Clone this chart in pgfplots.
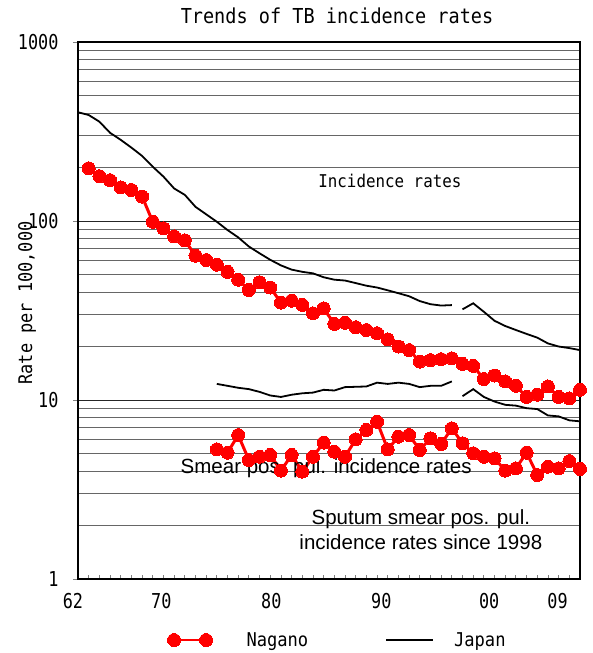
\documentclass[border=0pt]{standalone}
\usepackage{fontspec}
\setmainfont{Liberation Sans}
\newfontfamily\goth[FakeStretch=0.9]{DejaVu Sans Mono}
\newfontfamily\gothn[FakeStretch=0.82]{DejaVu Sans Mono}
\usepackage{pgfplots}
\pgfplotsset{compat=1.18}
\definecolor{ngred}{RGB}{255,0,0}
\pgfplotsset{
  nagano legend/.style={legend image code/.code={%
    \draw[##1, line width=1.5pt] plot coordinates {(0pt,0pt) (32pt,0pt)};
    \path (51pt,0pt);}},
  japan legend/.style={legend image code/.code={%
    \draw[##1] (0pt,0pt) -- (47pt,0pt);}},
}

\begin{document}
\begin{tikzpicture}
\useasboundingbox (-78pt,-74pt) rectangle (514pt,579pt);
\begin{axis}[
  at={(0pt,0pt)}, anchor=south west,
  scale only axis, width=502pt, height=537pt,
  clip=false,
  ymode=log, ymin=1, ymax=1000,
  xmin=1962, xmax=2009,
  ytick={1,10,100,1000}, yticklabels={1,10,100,1000},
  minor ytick={2,3,4,5,6,7,8,9,20,30,40,50,60,70,80,90,200,300,400,500,600,700,800,900},
  xtick={1962,1969.8,1980.1,1990.4,2000.5,2006.9},
  xticklabels={\hspace*{-10pt}62,70,80,90,00,09},
  minor xtick={1963,...,2008},
  xtick pos=bottom, ytick pos=left,
  major tick length=5pt, minor tick length=4pt,
  major x tick style={draw=none},
  minor y tick style={draw=none},
  major y tick style={xshift=-5pt, line width=0.8pt},
  minor x tick style={line width=0.8pt},
  ymajorgrids=true, yminorgrids=true,
  major grid style={black!85, line width=0.9pt},
  minor grid style={black!60, line width=0.9pt},
  axis line style={black, line width=1.2pt},
  ticklabel style={font=\gothn\fontsize{20.5}{22}\selectfont},
  yticklabel style={xshift=-16pt},
  xticklabel style={yshift=-11pt},
  title={Trends of TB incidence rates},
  title style={at={(axis description cs:0.516,1)}, anchor=center, yshift=20pt,
    font=\goth\fontsize{20.6}{24}\selectfont},
  ylabel={Rate per 100,000},
  ylabel style={at={(axis description cs:-0.1016,0.514)}, anchor=center,
    font=\goth\fontsize{18.8}{22}\selectfont},
  legend columns=2,
  legend style={at={(axis description cs:0.517,-0.1136)}, anchor=center,
    draw=none, fill=none, font=\goth\fontsize{19}{22}\selectfont,
    /tikz/every odd column/.append style={column sep=18pt},
    /tikz/every even column/.append style={column sep=75pt}},
]

% Nagano, incidence rates
\addplot[ngred, line width=3pt, mark=*, mark size=6.5pt,
  mark options={solid, fill=ngred, draw=ngred, line width=0pt}, nagano legend]
  coordinates {
  (1963,197) (1964,178) (1965,169) (1966,154) (1967,149) (1968,137)
  (1969,99) (1970,91) (1971,82) (1972,78) (1973,64) (1974,60.5)
  (1975,57) (1976,52) (1977,47) (1978,41.2) (1979,45.5) (1980,42.5)
  (1981,35) (1982,35.9) (1983,34) (1984,30.5) (1985,32.5) (1986,26.6)
  (1987,27) (1988,25.5) (1989,24.6) (1990,23.6) (1991,21.8) (1992,19.9)
  (1993,19.0) (1994,16.4) (1995,16.7) (1996,16.9) (1997,17.1) (1998,15.9)
  (1999,15.5) (2000,13.1) (2001,13.7) (2002,12.7) (2003,12.0) (2004,10.4)
  (2005,10.7) (2006,11.9) (2007,10.4) (2008,10.2) (2009,11.4)
};
\addlegendentry{Nagano}

% Japan, incidence rates (old definition)
\addplot[black, line width=1.8pt, japan legend] coordinates {
  (1962,405) (1963,391) (1964,359) (1965,311) (1966,284) (1967,257)
  (1968,231) (1969,201) (1970,177) (1971,152) (1972,140) (1973,120)
  (1974,109) (1975,99) (1976,89) (1977,81) (1978,72) (1979,66)
  (1980,60.7) (1981,56.5) (1982,53.5) (1983,52) (1984,51) (1985,48.5)
  (1986,47) (1987,46.5) (1988,45) (1989,43.5) (1990,42.5) (1991,41)
  (1992,39.5) (1993,38) (1994,35.7) (1995,34.3) (1996,33.7) (1997,33.9)
};
\addlegendentry{Japan}

% Japan, incidence rates since 1998
\addplot[black, line width=1.8pt, forget plot] coordinates {
  (1998,32.1) (1999,34.7) (2000,31.1) (2001,27.7) (2002,25.9) (2003,24.6)
  (2004,23.4) (2005,22.3) (2006,20.7) (2007,19.9) (2008,19.5) (2009,19.0)
};

% Japan, smear positive
\addplot[black, line width=1.8pt, forget plot] coordinates {
  (1975,12.3) (1976,12.0) (1977,11.7) (1978,11.5) (1979,11.1) (1980,10.6)
  (1981,10.4) (1982,10.7) (1983,10.9) (1984,11.0) (1985,11.4) (1986,11.3)
  (1987,11.8) (1988,11.85) (1989,11.9) (1990,12.5) (1991,12.3) (1992,12.5)
  (1993,12.3) (1994,11.8) (1995,12.0) (1996,12.0) (1997,12.7)
};
\addplot[black, line width=1.8pt, forget plot] coordinates {
  (1998,10.5) (1999,11.5) (2000,10.4) (2001,9.8) (2002,9.4) (2003,9.3)
  (2004,9.0) (2005,8.9) (2006,8.2) (2007,8.1) (2008,7.7) (2009,7.6)
};

% Nagano, smear positive
\addplot[ngred, line width=3pt, mark=*, mark size=6.5pt, forget plot,
  mark options={solid, fill=ngred, draw=ngred, line width=0pt}]
  coordinates {
  (1975,5.30) (1976,5.08) (1977,6.37) (1978,4.62) (1979,4.82) (1980,4.93)
  (1981,4.03) (1982,4.93) (1983,3.98) (1984,4.82) (1985,5.78) (1986,5.14)
  (1987,4.82) (1988,6.03) (1989,6.80) (1990,7.56) (1991,5.30) (1992,6.24)
  (1993,6.37) (1994,5.26) (1995,6.11) (1996,5.68) (1997,6.95) (1998,5.73)
  (1999,5.04) (2000,4.82) (2001,4.72) (2002,4.03) (2003,4.15) (2004,5.08)
  (2005,3.81) (2006,4.24) (2007,4.15) (2008,4.56) (2009,4.12)
};

\node[font=\goth\fontsize{17.6}{20}\selectfont] at (axis cs:1991.2,167) {Incidence rates};
\node[anchor=west, inner sep=0pt, font=\fontsize{20.5}{24}\selectfont]
  at (axis cs:1971.6,4.15) {Smear pos. pul. incidence rates};
\node[align=center, font=\fontsize{20.5}{25}\selectfont]
  at (axis cs:1994.1,1.88) {Sputum smear pos. pul.\\incidence rates since 1998};
\end{axis}
\end{tikzpicture}
\end{document}
